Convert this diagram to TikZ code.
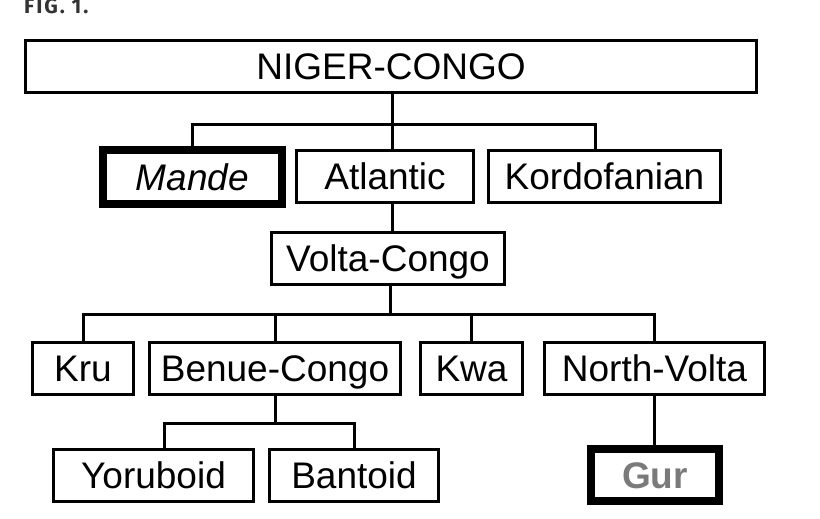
\documentclass[tikz,border=0pt]{standalone}
\usepackage{fontspec}
\setmainfont{Liberation Sans}
\newfontfamily\figfont[LetterSpace=9]{Fira Sans}
\usetikzlibrary{calc}
\definecolor{figgray}{HTML}{333333}
\definecolor{gurgray}{HTML}{7A7A7A}
\tikzset{
  box/.style={draw=black, line width=3pt, fill=white, inner sep=0pt,
    text height=26.5pt, text depth=0pt, minimum height=52pt,
    font=\fontsize{37}{40}\selectfont},
  thickbox/.style={box, line width=8pt},
  link/.style={draw=black, line width=3pt, line cap=rect},
}
\begin{document}
\begin{tikzpicture}[x=1pt,y=-1pt]
\useasboundingbox (0,0) rectangle (820,519);
\node[anchor=base west, text=figgray, inner sep=0pt, font=\figfont\bfseries\fontsize{21}{23}\selectfont] (fig) at (24,14) {FIG. 1.};

\node[box, minimum width=731pt] (nc) at (391,66.5) {NIGER-CONGO};
\node[thickbox, minimum width=179pt, minimum height=54pt] (mande) at (192.5,177) {\itshape Mande};
\node[box, minimum width=177pt] (atl) at (385,176) {Atlantic};
\node[box, minimum width=232pt] (kord) at (604.5,176) {Kordofanian};
\node[box, minimum width=233pt] (vc) at (388,258) {Volta-Congo};
\node[box, minimum width=101pt] (kru) at (83,368) {Kru};
\node[box, minimum width=251pt] (bc) at (275,368) {Benue-Congo};
\node[box, minimum width=102pt] (kwa) at (471.5,368) {Kwa};
\node[box, minimum width=220pt] (nv) at (654.5,368) {North-Volta};
\node[box, minimum width=200pt] (yor) at (153.5,475.5) {Yoruboid};
\node[box, minimum width=169pt] (ban) at (354,475.5) {Bantoid};
\node[thickbox, minimum width=128pt] (gur) at (655,475) {\bfseries\color{gurgray}Gur};

% bus coordinates
\coordinate (b1) at (392,124);
\coordinate (k1) at (595,124);
\coordinate (b2) at (390,314);
\coordinate (b3) at (275,423);
\coordinate (y3) at (164,423);

% level 1
\draw[link] (nc.south -| b1) -- (atl.north -| b1);
\draw[link] (mande.north) |- (b1) -- (k1) -- (kord.north -| k1);
% Atlantic to Volta-Congo
\draw[link] (atl.south -| b1) -- (vc.north -| b1);
% level 3
\draw[link] (vc.south -| b2) -- (b2);
\draw[link] (kru.north) |- (b2) -| (nv.north);
\draw[link] (bc.north) -- (bc.north |- b2);
\draw[link] (kwa.north) -- (kwa.north |- b2);
% Benue-Congo children
\draw[link] (bc.south) -- (b3);
\draw[link] (yor.north -| y3) -- (y3) -| (ban.north);
% Gur
\draw[link] (nv.south) -- (gur.north -| nv.south);
\end{tikzpicture}
\end{document}
